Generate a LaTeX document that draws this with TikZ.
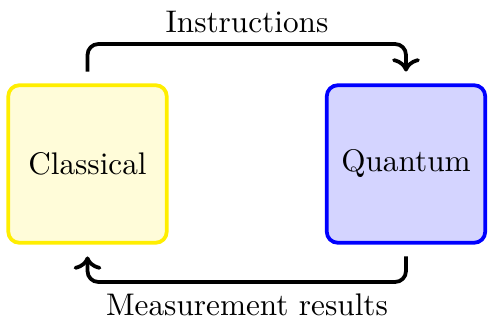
\documentclass[tikz,border=0pt]{standalone}
\usepackage{tikz}
\usetikzlibrary{positioning, arrows.meta}
\definecolor{cl-yellow}{HTML}{FFEE00}
\definecolor{qu-blue}{HTML}{0000FF}

\begin{document}
\begin{tikzpicture}[
    x=0.32pt, y=-0.32pt,
    box/.style={draw, line width=1.2pt, rounded corners=3.5pt,
                minimum width=50.7pt, minimum height=50.4pt},
    flow/.style={->, line width=1.2pt, rounded corners=3.5pt},
]
    \useasboundingbox (0,0) rectangle (490,320);

    % Machines
    \node[box, draw=cl-yellow, fill=cl-yellow!15] (classical) at (87.5,164) {Classical};
    \node[box, draw=qu-blue, fill=qu-blue!17] (quantum) at (406,164) {Quantum};

    % Loop
    \coordinate (top) at (247,44);
    \coordinate (bot) at (247,282);
    \draw[flow] ([yshift=3.8pt]classical.north) |- (top) -| ([yshift=3.8pt]quantum.north);
    \draw[flow] ([yshift=-3.8pt]quantum.south) |- (bot) -| ([yshift=-3.8pt]classical.south);

    % Labels
    \node (instr) at (247,22) {Instructions};
    \node (meas) at (247,305) {Measurement results};
\end{tikzpicture}
\end{document}
